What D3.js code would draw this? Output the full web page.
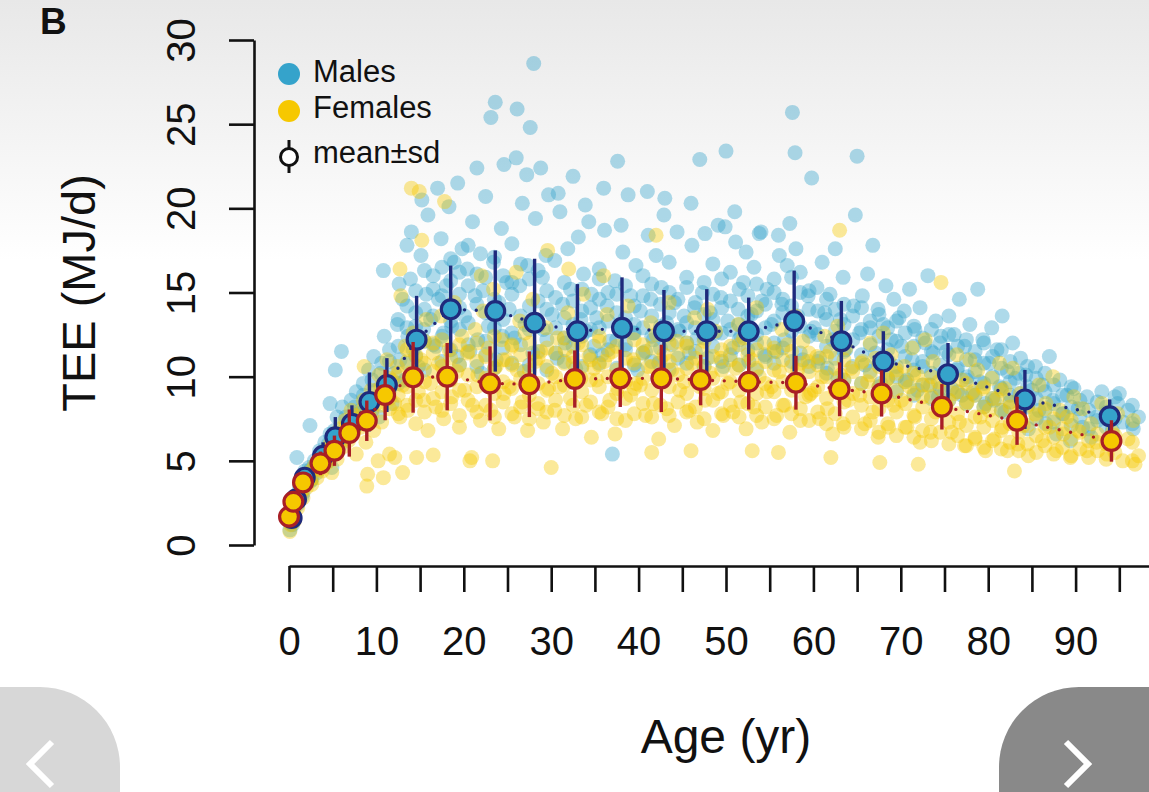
<!DOCTYPE html>
<html>
<head>
<meta charset="utf-8">
<script src="https://cdn.jsdelivr.net/npm/d3@7"></script>
<style>
  html, body { margin: 0; padding: 0; background: #fff; }
  svg { display: block; font-family: "Liberation Sans", Arial, Helvetica, sans-serif; }
</style>
</head>
<body>
<svg id="chart" width="1149" height="792"></svg>
<script>
// ---- data ----
const yTicks = [0, 5, 10, 15, 20, 25, 30];
const xTicks = [0, 5, 10, 15, 20, 25, 30, 35, 40, 45, 50, 55, 60, 65, 70, 75, 80, 85, 90, 95, 100];
const xLabels = [0, 10, 20, 30, 40, 50, 60, 70, 80, 90];

// mean +- sd per age group
const maleMeanAge = [0.3, 0.8, 1.8, 3.9, 5.3, 7.2, 9.2, 11.2, 14.6, 18.5, 23.6, 28.1, 33.0, 38.1, 42.9, 47.8, 52.6, 57.8, 63.2, 68.0, 75.4, 84.2, 93.9];
const maleMean    = [1.6, 2.7, 4.0, 5.3, 6.4, 7.2, 8.5, 9.5, 12.2, 14.0, 13.9, 13.2, 12.7, 12.9, 12.7, 12.7, 12.7, 13.3, 12.1, 10.9, 10.15, 8.65, 7.65];
const maleSD      = [0.3, 0.4, 0.6, 0.8, 1.2, 1.1, 1.75, 1.6, 2.6, 2.6, 3.6, 3.8, 2.8, 3.0, 2.45, 2.5, 2.0, 3.0, 2.4, 1.8, 1.85, 1.75, 1.0];

const femaleMeanAge = [0.0, 0.5, 1.6, 3.6, 5.2, 6.9, 8.9, 11.0, 14.2, 18.1, 23.0, 27.5, 32.7, 37.9, 42.6, 47.1, 52.6, 58.0, 63.0, 67.8, 74.7, 83.3, 94.1];
const femaleMean    = [1.68, 2.57, 3.72, 4.85, 5.6, 6.65, 7.38, 8.91, 9.96, 10.0, 9.6, 9.55, 9.86, 9.9, 9.9, 9.8, 9.7, 9.64, 9.25, 9.0, 8.21, 7.38, 6.18];
const femaleSD      = [0.3, 0.4, 0.5, 0.7, 0.9, 1.4, 1.2, 1.5, 2.1, 2.0, 2.2, 1.95, 1.7, 1.7, 2.0, 1.5, 1.65, 1.6, 1.6, 1.37, 1.35, 1.43, 1.23];

// individual measurements [age, TEE]
const malePts = [
  [0.1,0.9],[0.2,1.3],[0.3,1.8],[0.4,1.2],[0.5,2.2],[0.7,2.6],[0.9,3.0],[1.0,2.4],[1.2,3.4],[1.4,3.9],[1.6,3.1],[1.8,4.4],[2.0,3.7],
  [2.3,4.6],[2.6,3.9],[2.9,5.0],[3.2,4.3],[3.5,5.6],[3.8,4.8],[4.1,6.1],[4.4,5.2],[4.7,6.6],[4.9,4.6],
  [5.2,6.8],[5.5,7.6],[5.8,5.9],[6.1,8.2],[6.4,6.4],[6.8,7.3],[7.1,8.6],[7.4,6.9],[7.7,9.1],[7.9,7.8],[5.3,10.4],[6.0,11.5],[4.7,8.4],[2.4,7.1],[0.9,5.2],
  [8.2,8.0],[8.5,9.6],[8.8,7.2],[9.1,10.4],[9.4,8.6],[9.7,11.2],[10.0,9.2],[10.3,7.6],[10.6,10.8],[10.9,12.4],[11.2,9.0],[11.5,11.6],[11.8,8.4],[10.8,16.3],
  [12.1,10.2],[12.4,13.1],[12.7,11.0],[13.0,14.6],[13.3,9.8],[13.6,12.4],[13.9,15.8],[14.2,11.6],[14.5,13.8],[14.8,10.6],[15.1,17.2],[15.4,12.8],[15.7,14.9],[15.9,19.6],[15.2,20.5],[13.5,17.8],[12.6,15.5],[14.0,18.6],
  [16.2,13.4],[16.5,16.0],[16.8,11.8],[17.1,14.6],[17.4,18.2],[17.7,12.6],[18.0,15.4],[18.3,20.1],[18.6,13.0],[18.9,16.8],[19.2,11.2],[19.5,14.1],[19.8,17.6],[17.0,21.2],[19.3,21.5],[18.4,9.8],
  [20.1,13.6],[20.4,16.4],[20.7,11.5],[21.0,19.2],[21.3,14.8],[21.6,12.2],[21.9,17.3],[22.2,15.1],[22.5,20.7],[22.8,13.0],[23.1,25.4],[23.4,16.8],[23.7,11.0],[24.0,14.4],[24.3,18.8],[24.6,22.6],[24.9,15.6],[23.6,26.3],[22.0,10.2],[24.4,12.4],[21.5,22.4],
  [25.2,14.0],[25.5,17.9],[25.8,12.3],[26.1,25.9],[26.4,15.4],[26.7,20.3],[27.0,13.1],[27.3,16.6],[27.6,24.8],[27.9,11.4],[28.2,19.4],[28.5,14.5],[28.8,22.4],[29.1,12.8],[29.4,17.2],[29.7,20.8],[28.0,28.6],[26.0,23.0],[26.9,10.3],[29.0,15.9],[27.2,22.0],
  [30.1,13.7],[30.4,16.9],[30.7,11.1],[31.0,19.8],[31.3,14.3],[31.6,12.0],[31.9,17.6],[32.2,15.2],[32.5,21.9],[32.8,10.5],[33.1,18.3],[33.4,13.4],[33.7,16.1],[34.0,12.7],[34.3,19.2],[34.6,14.9],[34.9,11.8],[30.8,20.9],[33.9,20.2],
  [35.2,13.5],[35.5,16.4],[35.8,11.3],[36.1,18.7],[36.4,14.2],[36.7,12.1],[37.0,5.4],[37.3,15.7],[37.6,22.8],[37.9,13.0],[38.2,17.4],[38.5,11.6],[38.8,20.8],[39.1,14.8],[39.4,12.6],[39.7,16.6],[36.0,21.2],[38.0,19.0],[39.9,10.4],
  [40.2,13.9],[40.5,16.0],[40.8,11.5],[41.1,18.4],[41.4,14.6],[41.7,12.2],[42.0,17.2],[42.3,10.8],[42.6,15.3],[42.9,19.6],[43.2,13.2],[43.5,16.8],[43.8,11.9],[44.1,14.4],[44.4,18.6],[44.7,12.7],[41.0,21.0],[43.0,20.6],
  [45.2,13.6],[45.5,15.9],[45.8,11.4],[46.1,17.8],[46.4,14.1],[46.7,12.3],[47.0,22.9],[47.3,15.0],[47.6,18.5],[47.9,11.1],[48.2,13.8],[48.5,16.7],[48.8,12.6],[49.1,19.0],[49.4,14.7],[49.7,10.6],[49.9,18.9],[46.0,20.3],
  [50.0,23.4],[50.2,13.3],[50.5,16.2],[50.8,11.7],[51.1,18.0],[51.4,14.0],[51.7,12.4],[52.0,15.6],[52.3,17.4],[52.6,10.9],[52.9,13.7],[53.2,16.5],[53.5,12.0],[53.8,18.5],[54.1,14.5],[54.4,11.3],[54.7,15.2],[51.0,19.8],[54.0,18.6],
  [55.2,13.1],[55.5,15.8],[55.8,11.5],[56.1,17.2],[56.4,14.3],[56.7,12.2],[57.0,16.6],[57.3,19.1],[57.6,25.7],[57.9,23.3],[58.2,13.6],[58.5,15.0],[58.8,11.0],[59.8,21.8],[59.4,14.8],[59.7,12.7],[56.0,18.4],[58.0,17.6],
  [60.1,12.9],[60.4,15.3],[60.7,11.1],[61.0,16.8],[61.3,13.8],[61.6,10.5],[61.9,14.9],[62.2,12.2],[62.5,17.6],[62.8,9.9],[63.1,13.4],[63.4,15.9],[63.7,11.6],[65.0,23.1],[64.8,19.6],[64.6,14.2],
  [65.3,12.6],[65.6,14.8],[65.9,10.7],[66.2,16.1],[66.5,12.9],[66.8,17.8],[67.1,11.4],[67.4,14.0],[67.7,9.6],[68.0,13.1],[68.3,15.4],[68.6,10.9],[68.9,12.2],[69.2,14.6],[69.5,10.0],[69.8,13.5],
  [70.1,11.8],[70.4,13.9],[70.7,9.8],[71.0,15.2],[71.3,11.0],[71.6,12.8],[71.9,9.2],[72.2,14.1],[72.5,10.6],[72.8,12.0],[73.1,16.0],[73.4,9.5],[73.7,11.4],[74.0,13.3],[74.3,8.8],[74.6,12.4],[74.9,10.2],
  [75.2,11.5],[75.5,13.6],[75.8,9.3],[76.1,12.5],[76.4,10.4],[76.7,14.6],[77.0,8.9],[77.3,11.8],[77.6,10.0],[77.9,13.1],[78.2,9.0],[78.5,11.0],[78.8,15.2],[79.1,9.7],[79.4,12.2],[79.7,8.4],
  [80.1,10.8],[80.4,12.9],[80.7,8.6],[81.0,11.6],[81.3,9.4],[81.6,13.6],[81.9,7.9],[82.2,10.3],[82.5,8.9],[82.8,12.0],[83.1,9.9],[83.4,7.6],[83.7,11.1],[84.0,8.3],[84.3,10.1],[84.6,6.9],[85.0,9.2],
  [85.4,10.6],[85.8,8.0],[86.2,9.5],[86.6,7.2],[87.0,11.2],[87.4,8.6],[87.8,6.6],[88.2,9.8],[88.6,7.8],[89.0,8.9],[89.4,6.2],[89.8,9.3],
  [90.3,8.1],[90.8,7.0],[91.3,8.8],[91.8,6.4],[92.4,7.6],[93.0,9.1],[93.6,7.9],[94.2,6.8],[94.8,8.4],[95.4,7.3],[96.0,8.0],[96.6,6.9],[97.2,7.6],[95.0,9.0]
];

// dense core of the male cloud: [age, [TEE values at that age]]
const maleCore = [
  [0.5,[1.6,2.0]],[1.5,[2.9,3.6]],[2.5,[3.8,4.5]],[3.5,[4.6,5.3]],[4.5,[5.0,6.0]],[5.5,[5.8,6.6]],[6.5,[6.7,7.6]],[7.5,[7.0,8.2]],
  [8.5,[7.6,8.9]],[9.5,[8.0,9.8]],[10.5,[8.8,10.2]],[11.5,[9.2,10.9]],
  [12.5,[9.6,11.8,13.4]],[13.5,[10.8,12.9,14.2]],[14.5,[11.2,13.0,15.1]],[15.5,[10.4,12.1,14.0,16.3]],[16.5,[11.9,13.6,15.2]],
  [17.5,[12.4,14.8,16.5,10.9]],[18.5,[11.6,13.3,15.7,17.0]],[19.5,[12.8,14.9,16.2,10.7]],[20.5,[11.9,13.2,15.4,17.8]],
  [21.5,[10.6,14.3,16.1]],[22.5,[12.1,13.8,15.9,11.3]],[23.5,[12.9,14.6,17.1,10.5]],[24.5,[11.7,13.4,16.0]],[25.5,[12.6,14.9,10.8,15.6]],
  [26.5,[11.9,13.6,16.7]],[27.5,[10.7,12.8,14.2,15.8]],[28.5,[11.5,13.0,16.3]],[29.5,[12.2,14.0,10.4,15.1]],[30.5,[11.4,12.9,14.7]],
  [31.5,[10.9,13.5,15.6,12.3]],[32.5,[11.8,13.1,14.5]],[33.5,[10.6,12.4,15.2,13.9]],[34.5,[11.3,12.8,14.1]],[35.5,[10.8,12.9,14.6,15.8]],
  [36.5,[11.6,13.3,15.0]],[37.5,[10.5,12.2,13.8,14.9]],[38.5,[11.9,13.5,15.4]],[39.5,[10.7,12.6,14.2,13.1]],[40.5,[11.4,12.9,14.8]],
  [41.5,[10.9,13.6,15.5,12.4]],[42.5,[11.7,13.0,14.3]],[43.5,[10.4,12.5,15.0,13.8]],[44.5,[11.1,12.8,14.6]],[45.5,[10.8,13.2,15.3,12.0]],
  [46.5,[11.5,12.9,14.4]],[47.5,[10.6,12.3,13.7,15.6]],[48.5,[11.8,13.4,14.9]],[49.5,[10.9,12.6,14.1,15.8]],[50.5,[11.3,12.8,14.5]],
  [51.5,[10.7,13.1,15.2,12.2]],[52.5,[11.6,13.6,14.8]],[53.5,[10.4,12.5,13.9,15.5]],[54.5,[11.2,12.9,14.3]],[55.5,[10.8,13.3,15.0,12.0]],
  [56.5,[11.7,13.8,14.6]],[57.5,[10.9,12.7,14.2,15.9]],[58.5,[11.4,13.0,16.2]],[59.5,[10.6,12.4,14.0,15.1]],[60.5,[10.9,12.5,13.9]],
  [61.5,[10.2,11.8,13.4,14.6]],[62.5,[11.1,12.7,14.0]],[63.5,[9.8,11.5,13.1,14.3]],[64.5,[10.6,12.2,13.6]],[65.5,[9.6,11.3,12.8,14.1]],
  [66.5,[10.3,11.9,13.3]],[67.5,[9.4,10.8,12.4,13.7]],[68.5,[9.9,11.6,12.9]],[69.5,[9.1,10.6,12.1,13.3]],[70.5,[9.7,11.2,12.6]],
  [71.5,[8.9,10.4,11.8,13.0]],[72.5,[9.5,10.9,12.3]],[73.5,[8.7,10.2,11.5,12.8]],[74.5,[9.3,10.7,12.0]],[75.5,[8.6,10.0,11.3,12.5]],
  [76.5,[9.1,10.5,11.8]],[77.5,[8.4,9.8,11.0,12.2]],[78.5,[8.9,10.3,11.5]],[79.5,[8.2,9.6,10.8,12.0]],[80.5,[8.7,10.0,11.2]],
  [81.5,[8.0,9.3,10.5,11.6]],[82.5,[8.5,9.7,10.9]],[83.5,[7.7,9.0,10.2]],[84.5,[8.2,9.4,10.6]],[85.5,[7.5,8.7,9.9]],
  [86.5,[8.0,9.1,10.2]],[87.5,[7.3,8.4,9.5]],[88.5,[7.8,8.9]],[89.5,[7.1,8.2,9.4]],[90.5,[7.6,8.6]],[91.5,[6.9,8.0]],
  [92.5,[7.4,8.5]],[93.5,[7.0,8.2]],[94.5,[7.5,8.8]],[96.5,[7.2,8.3]]
];

const femalePts = [
  [0.1,0.8],[0.2,1.2],[0.3,1.6],[0.5,2.0],[0.6,1.4],[0.8,2.6],[1.0,2.2],[1.2,3.0],[1.4,3.5],[1.6,2.8],[1.8,4.0],[2.0,3.4],
  [2.3,4.2],[2.6,3.6],[2.9,4.7],[3.2,4.0],[3.5,5.2],[3.8,4.4],[4.1,5.6],[4.4,4.9],[4.7,6.0],[4.9,4.3],
  [5.2,6.2],[5.5,5.1],[5.8,6.9],[6.1,5.8],[6.4,7.4],[6.8,6.2],[7.1,8.0],[7.4,6.6],[7.7,5.4],[7.9,7.5],
  [8.2,7.0],[8.5,8.6],[8.8,6.1],[9.1,7.8],[9.4,9.2],[9.7,6.8],[10.0,8.4],[10.3,10.1],[10.6,7.3],[10.9,9.0],[11.2,11.0],[11.5,8.1],[11.8,9.8],[9.0,4.2],[10.2,5.0],[11.5,5.4],[8.6,10.6],
  [12.1,8.4],[12.4,10.6],[12.7,7.6],[13.0,9.5],[13.3,11.8],[13.6,8.0],[13.9,10.2],[14.2,12.6],[14.5,7.2],[14.8,9.1],[15.1,11.0],[15.4,8.6],[15.7,13.4],[15.9,6.8],[14.9,21.0],[12.8,14.8],[13.0,4.3],[14.6,5.2],[12.1,5.2],[10.8,4.0],[8.9,3.5],
  [16.2,9.6],[16.5,12.0],[16.8,8.2],[17.1,10.8],[17.4,13.6],[17.7,7.5],[18.0,9.9],[18.3,11.6],[18.6,8.8],[18.9,14.4],[19.2,10.3],[19.5,7.0],[19.8,12.4],[16.5,5.35],[17.8,20.4],[15.2,18.1],[12.7,16.4],[14.0,21.2],
  [20.1,9.2],[20.4,11.4],[20.7,5.0],[21.0,8.3],[21.3,12.8],[21.6,10.1],[21.9,7.4],[22.2,13.9],[22.5,9.6],[22.8,11.7],[23.1,8.0],[23.4,15.2],[23.7,10.6],[24.0,6.9],[24.3,12.2],[24.6,9.0],[24.9,11.0],[20.9,5.2],[23.3,5.0],[22.0,16.0],
  [25.2,9.4],[25.5,11.9],[25.8,7.6],[26.1,10.4],[26.4,13.3],[26.7,8.5],[27.0,12.6],[27.3,6.8],[27.6,9.8],[27.9,14.6],[28.2,10.9],[28.5,8.1],[28.8,11.5],[29.1,7.3],[29.4,12.9],[29.7,9.3],[29.6,17.5],[26.0,16.2],
  [30.1,10.2],[30.4,8.0],[30.7,12.3],[31.0,9.4],[31.3,6.9],[31.6,11.6],[31.9,13.8],[32.2,8.7],[32.5,10.8],[32.8,7.5],[33.1,12.0],[33.4,9.9],[33.7,14.9],[34.0,8.3],[34.3,11.2],[34.6,6.4],[34.9,10.5],[30.0,4.6],[32.0,16.4],
  [35.2,9.8],[35.5,12.4],[35.8,7.8],[36.1,10.9],[36.4,13.7],[36.7,8.6],[37.0,11.5],[37.3,6.6],[37.6,9.3],[37.9,12.9],[38.2,10.1],[38.5,7.4],[38.8,14.2],[39.1,8.9],[39.4,11.0],[39.7,9.6],[36.0,16.0],
  [40.2,9.5],[40.5,11.9],[40.8,7.7],[41.1,10.6],[41.4,13.2],[41.7,8.4],[42.0,12.5],[42.3,6.3],[42.6,9.9],[42.9,11.3],[43.2,8.1],[43.5,14.4],[43.8,10.4],[44.1,7.1],[44.4,12.1],[44.7,9.2],[41.5,5.5],[42.0,18.4],
  [45.2,9.7],[45.5,12.0],[45.8,8.0],[46.1,10.8],[46.4,13.5],[46.7,7.3],[47.0,9.4],[47.3,11.6],[47.6,8.6],[47.9,14.0],[48.2,10.2],[48.5,6.8],[48.8,12.7],[49.1,9.0],[49.4,11.1],[49.7,7.7],[46.0,5.6],
  [50.2,9.6],[50.5,11.8],[50.8,7.9],[51.1,10.5],[51.4,13.1],[51.7,8.5],[52.0,12.3],[52.3,6.9],[52.6,9.8],[52.9,11.0],[53.2,8.2],[53.5,14.1],[53.8,10.0],[54.1,7.3],[54.4,12.0],[54.7,9.1],[53.0,5.6],
  [55.2,9.4],[55.5,11.5],[55.8,7.7],[56.1,10.3],[56.4,12.8],[56.7,8.3],[57.0,11.9],[57.3,6.7],[57.6,9.6],[57.9,13.6],[58.2,10.4],[58.5,7.4],[58.8,12.1],[59.1,8.8],[59.4,10.9],[59.7,9.0],[56.0,5.5],
  [60.1,9.2],[60.4,11.2],[60.7,7.5],[61.0,10.0],[61.3,12.4],[61.6,8.1],[61.9,11.5],[62.2,6.6],[62.5,9.3],[62.8,13.0],[63.1,10.1],[63.4,7.2],[63.7,11.7],[64.0,8.6],[64.3,10.5],[63.0,18.7],[62.0,5.2],
  [65.3,8.9],[65.6,10.9],[65.9,7.2],[66.2,9.7],[66.5,12.0],[66.8,7.9],[67.1,11.1],[67.4,6.4],[67.7,9.0],[68.0,12.6],[68.3,9.8],[68.6,7.0],[68.9,11.3],[69.2,8.3],[69.5,10.2],[67.6,4.9],
  [70.1,8.6],[70.4,10.6],[70.7,7.0],[71.0,9.4],[71.3,11.7],[71.6,7.6],[71.9,10.1],[72.2,6.1],[72.5,8.8],[72.8,12.2],[73.1,9.5],[73.4,6.7],[73.7,10.9],[74.0,7.9],[74.3,9.7],[74.6,15.6],[74.9,8.2],[72.0,4.8],
  [75.2,8.3],[75.5,10.3],[75.8,6.7],[76.1,9.0],[76.4,11.3],[76.7,7.3],[77.0,9.8],[77.3,5.9],[77.6,8.5],[77.9,11.0],[78.2,9.1],[78.5,6.4],[78.8,10.4],[79.1,7.6],[79.4,9.3],[79.7,5.6],
  [80.1,8.0],[80.4,9.9],[80.7,6.3],[81.0,8.7],[81.3,10.8],[81.6,7.0],[81.9,9.3],[82.2,5.6],[82.5,8.2],[82.8,10.5],[83.1,7.5],[83.4,6.0],[83.7,9.0],[84.0,7.1],[84.3,8.6],[84.6,5.3],[83.0,4.4],
  [85.4,7.8],[85.8,9.5],[86.2,6.2],[86.6,8.4],[87.0,7.0],[87.4,10.0],[87.8,5.6],[88.2,8.0],[88.6,6.6],[89.0,7.6],[89.4,5.2],[89.8,8.8],
  [90.3,6.8],[90.8,8.1],[91.3,5.6],[91.8,7.2],[92.4,6.1],[93.0,8.4],[93.6,5.4],[94.2,6.7],[94.8,7.8],[95.4,5.0],[96.0,6.3],[96.6,7.4],[97.2,5.3],[96.8,4.8]
];

// dense core of the female cloud
const femaleCore = [
  [0.5,[1.5,2.3]],[1.5,[3.2,3.8]],[2.5,[3.9,4.4]],[3.5,[4.5,5.0]],[4.5,[5.1,5.7]],[5.5,[5.6,6.4]],[6.5,[6.3,7.0]],[7.5,[6.9,7.7]],
  [8.5,[7.2,8.1]],[9.5,[7.8,8.7]],[10.5,[8.3,9.4]],[11.5,[8.7,9.9]],
  [12.5,[8.9,10.2,7.8]],[13.5,[9.4,10.9,8.3,11.6]],[14.5,[8.6,10.0,11.3]],[15.5,[7.9,9.7,10.8,12.1]],[16.5,[8.7,10.3,11.4]],
  [17.5,[9.1,10.6,8.0,12.2]],[18.5,[8.4,9.8,11.1]],[19.5,[7.7,9.2,10.7,11.9]],[20.5,[8.6,10.1,11.5]],[21.5,[7.9,9.4,10.9,12.0]],
  [22.5,[8.3,9.9,11.2]],[23.5,[7.6,9.0,10.5,12.4]],[24.5,[8.5,9.7,11.0]],[25.5,[7.8,9.3,10.7,11.8]],[26.5,[8.2,9.9,11.3]],
  [27.5,[7.5,8.9,10.4,12.0]],[28.5,[8.4,9.6,11.1]],[29.5,[7.9,9.2,10.6,11.7]],[30.5,[8.6,10.0,11.4]],[31.5,[7.7,9.5,10.8,12.3]],
  [32.5,[8.3,9.9,11.2]],[33.5,[7.6,9.1,10.5,11.9]],[34.5,[8.5,9.8,11.0]],[35.5,[7.9,9.4,10.7,12.1]],[36.5,[8.2,10.0,11.3]],
  [37.5,[7.5,9.0,10.4,11.8]],[38.5,[8.7,9.7,11.1]],[39.5,[7.8,9.3,10.8,12.2]],[40.5,[8.4,9.9,11.4]],[41.5,[7.6,9.2,10.6,11.7]],
  [42.5,[8.3,9.8,11.0]],[43.5,[7.7,9.4,10.9,12.0]],[44.5,[8.5,10.1,11.3]],[45.5,[7.9,9.0,10.5,11.8]],[46.5,[8.2,9.7,11.1]],
  [47.5,[7.5,9.3,10.6,12.1]],[48.5,[8.6,9.9,11.2]],[49.5,[7.8,9.1,10.4,11.6]],[50.5,[8.3,9.7,11.0]],[51.5,[7.6,9.2,10.7,11.9]],
  [52.5,[8.4,9.8,11.3]],[53.5,[7.7,9.0,10.5,11.6]],[54.5,[8.2,9.6,10.9]],[55.5,[7.5,9.1,10.4,11.7]],[56.5,[8.3,9.7,11.0]],
  [57.5,[7.8,9.2,10.6,11.5]],[58.5,[8.1,9.5,10.8]],[59.5,[7.4,8.9,10.3,11.4]],[60.5,[7.9,9.4,10.7]],[61.5,[7.2,8.7,10.0,11.2]],
  [62.5,[7.8,9.2,10.5]],[63.5,[7.0,8.5,9.8,11.0]],[64.5,[7.6,9.0,10.3]],[65.5,[6.9,8.3,9.6,10.8]],[66.5,[7.4,8.8,10.1]],
  [67.5,[6.7,8.1,9.4,10.6]],[68.5,[7.2,8.6,9.9]],[69.5,[6.5,7.9,9.2,10.4]],[70.5,[7.0,8.4,9.7]],[71.5,[6.4,7.7,9.0,10.2]],
  [72.5,[6.8,8.2,9.5]],[73.5,[6.2,7.5,8.8,10.0]],[74.5,[6.7,8.0,9.3]],[75.5,[6.0,7.3,8.6,9.8]],[76.5,[6.5,7.8,9.1]],
  [77.5,[5.9,7.1,8.4,9.6]],[78.5,[6.3,7.6,8.9]],[79.5,[5.8,7.0,8.2,9.4]],[80.5,[6.2,7.4,8.7]],[81.5,[5.7,6.8,8.0,9.2]],
  [82.5,[6.1,7.2,8.5]],[83.5,[5.6,6.7,7.9]],[84.5,[6.0,7.1,8.3]],[85.5,[5.5,6.5,7.7]],[86.5,[5.9,7.0,8.1]],[87.5,[5.4,6.4,7.5]],
  [88.5,[5.8,6.9]],[89.5,[5.3,6.3,7.4]],[90.5,[5.7,6.7]],[91.5,[5.2,6.2]],[92.5,[5.6,6.6]],[93.5,[5.1,6.0]],[94.5,[5.5,6.5]],[96.5,[5.0,6.1]]
];

// ---- styling ----
const MALE = '#35a3cb';
const FEMALE = '#f6c800';
const MALE_DARK = '#1f2a7c';
const FEMALE_DARK = '#a81f26';
const FONT = '"Liberation Sans", Arial, Helvetica, sans-serif';

const svg = d3.select('#chart');
const W = 1149, H = 792;

const x = d3.scaleLinear().domain([0, 100]).range([289, 1163]);
const y = d3.scaleLinear().domain([0, 30]).range([545, 40]);

const flatten = core => core.flatMap(([a, vals]) => vals.map(v => [a, v]));
const maleAll = malePts.concat(flatten(maleCore));
const femaleAll = femalePts.concat(flatten(femaleCore));

// page background (grey fade at top)
const defs = svg.append('defs');
const bg = defs.append('linearGradient').attr('id', 'bg').attr('x1', 0).attr('y1', 0).attr('x2', 0).attr('y2', 1);
bg.append('stop').attr('offset', '0%').attr('stop-color', '#e8e8e8');
bg.append('stop').attr('offset', '33%').attr('stop-color', '#ffffff');
bg.append('stop').attr('offset', '100%').attr('stop-color', '#ffffff');
svg.append('rect').attr('width', W).attr('height', H).attr('fill', 'url(#bg)');

// panel letter
svg.append('text').attr('x', 40).attr('y', 34)
  .attr('font-family', FONT)
  .attr('font-size', 37).attr('font-weight', 'bold').attr('fill', '#111')
  .text('B');

// raw points
function drawPoints(pts, color) {
  svg.append('g').selectAll('circle').data(pts).join('circle')
    .attr('cx', d => x(d[0]))
    .attr('cy', d => y(d[1]))
    .attr('r', 7.5)
    .attr('fill', color)
    .attr('fill-opacity', 0.4);
}
drawPoints(maleAll, MALE);
drawPoints(femaleAll, FEMALE);

// mean +- sd layer
function drawMeans(ages, means, sds, fill, dark) {
  const g = svg.append('g');
  const rows = ages.map((a, i) => ({ age: a, m: means[i], sd: sds[i] }));

  g.selectAll('line').data(rows).join('line')
    .attr('x1', d => x(d.age)).attr('x2', d => x(d.age))
    .attr('y1', d => y(d.m + d.sd)).attr('y2', d => y(d.m - d.sd))
    .attr('stroke', dark).attr('stroke-width', 3.4);

  g.append('path').datum(rows)
    .attr('fill', 'none')
    .attr('stroke', dark)
    .attr('stroke-width', 3.4)
    .attr('stroke-linecap', 'round')
    .attr('stroke-dasharray', '0 11.7')
    .attr('d', d3.line().x(d => x(d.age)).y(d => y(d.m)));

  g.selectAll('circle').data(rows).join('circle')
    .attr('cx', d => x(d.age)).attr('cy', d => y(d.m))
    .attr('r', 9.4)
    .attr('fill', fill)
    .attr('stroke', dark).attr('stroke-width', 3.2);
}
drawMeans(maleMeanAge, maleMean, maleSD, MALE, MALE_DARK);
drawMeans(femaleMeanAge, femaleMean, femaleSD, FEMALE, FEMALE_DARK);

// y axis
const yAxis = svg.append('g').attr('transform', 'translate(254,0)')
  .call(d3.axisLeft(y).tickValues(yTicks).tickSize(25).tickSizeOuter(0).tickFormat(d3.format('d')));
yAxis.selectAll('text')
  .attr('x', null).attr('dy', null)
  .attr('text-anchor', 'middle')
  .attr('transform', 'translate(-59,0) rotate(-90)')
  .attr('font-size', 40).attr('font-family', FONT).attr('fill', '#111');

// x axis
const xAxis = svg.append('g').attr('transform', 'translate(0,566)')
  .call(d3.axisBottom(x).tickValues(xTicks).tickSize(26).tickSizeOuter(0)
    .tickFormat(d => xLabels.includes(d) ? d : ''));
xAxis.selectAll('text')
  .attr('y', 89).attr('dy', null)
  .attr('font-size', 40).attr('font-family', FONT).attr('fill', '#111');

svg.selectAll('.domain, .tick line').attr('stroke', '#111').attr('stroke-width', 2.6);

// axis titles
svg.append('text')
  .attr('transform', 'translate(95,293) rotate(-90)')
  .attr('text-anchor', 'middle')
  .attr('font-size', 47).attr('fill', '#111')
  .text('TEE (MJ/d)');

svg.append('text')
  .attr('x', 726).attr('y', 753)
  .attr('text-anchor', 'middle')
  .attr('font-size', 48).attr('fill', '#111')
  .text('Age (yr)');

// legend
const legend = svg.append('g').attr('font-size', 31).attr('fill', '#111');
legend.append('circle').attr('cx', 289).attr('cy', 74).attr('r', 11).attr('fill', MALE);
legend.append('text').attr('x', 313).attr('y', 82).text('Males');
legend.append('circle').attr('cx', 289).attr('cy', 111).attr('r', 11).attr('fill', FEMALE);
legend.append('text').attr('x', 313).attr('y', 118).text('Females');
legend.append('line').attr('x1', 289).attr('x2', 289).attr('y1', 140).attr('y2', 173)
  .attr('stroke', '#111').attr('stroke-width', 3);
legend.append('circle').attr('cx', 289).attr('cy', 157).attr('r', 8.5)
  .attr('fill', '#fff').attr('stroke', '#111').attr('stroke-width', 3);
legend.append('text').attr('x', 313).attr('y', 163).text('mean\u00b1sd');

// slide navigation buttons
svg.append('rect').attr('x', -80).attr('y', 687).attr('width', 200).attr('height', 200).attr('rx', 80)
  .attr('fill', '#d7d7d7');
svg.append('path').attr('d', 'M52,742 L30,764 L52,786')
  .attr('fill', 'none').attr('stroke', '#fff').attr('stroke-width', 6);
svg.append('rect').attr('x', 999).attr('y', 687).attr('width', 260).attr('height', 200).attr('rx', 80)
  .attr('fill', '#898989');
svg.append('path').attr('d', 'M1066,742 L1088,764 L1066,786')
  .attr('fill', 'none').attr('stroke', '#fff').attr('stroke-width', 6);
</script>
</body>
</html>
